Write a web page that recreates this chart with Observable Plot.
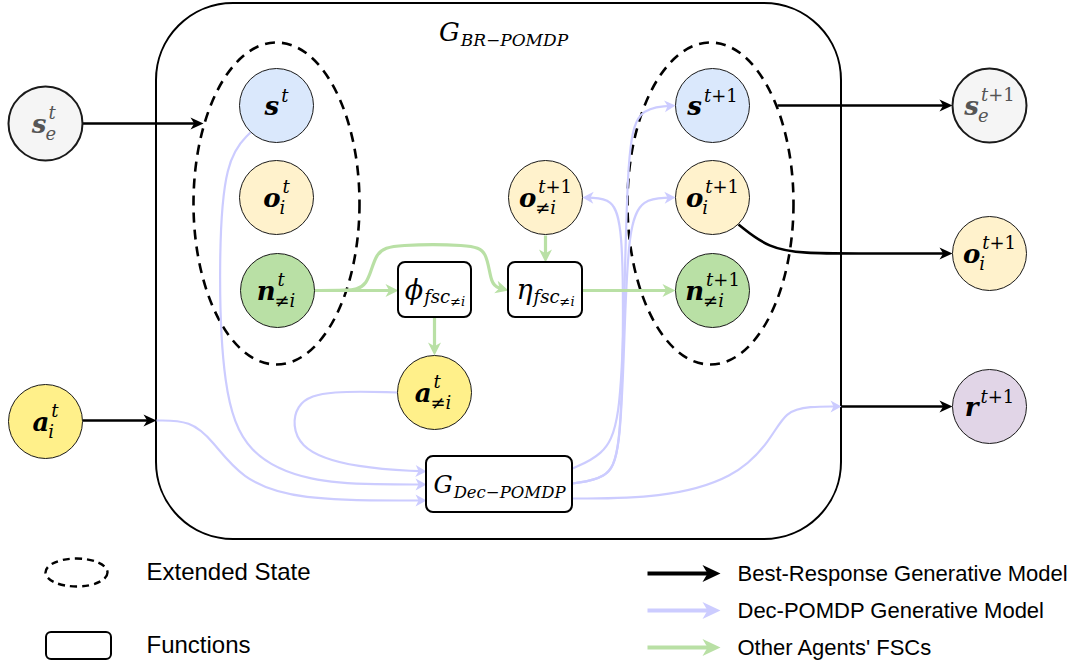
<!DOCTYPE html>
<html><head><meta charset="utf-8">
<script src="https://cdn.jsdelivr.net/npm/d3@7"></script>
<script src="https://cdn.jsdelivr.net/npm/@observablehq/plot@0.6"></script>
<style>html,body{margin:0;padding:0;background:#fff;}</style>
</head><body><div id="chart"></div>
<script>
// ---------------- data ----------------
const nodeIds   = ["se_t","s_t","o_t","n_t","a_i","a_ni","o_ni1","s_t1","o_t1","n_t1","se_t1","o_ext","r_t1"];
const nodeX     = [45, 276, 276, 277, 45, 434, 545, 712, 712, 712, 989, 989, 989];
const nodeY     = [123, 105, 197, 290, 421, 392, 197, 105, 197, 290, 105, 253, 406];
const nodeKind  = ["env","state","obs","fsc","action","action","obs","state","obs","fsc","env","obs","reward"];
const nodeBase  = ["s","s","o","n","a","a","o","s","o","n","s","o","r"];
const nodeSup   = ["t","t","t","t","t","t","t+1","t+1","t+1","t+1","t+1","t+1","t+1"];
const nodeSub   = ["e","","i","≠i","i","≠i","≠i","","i","≠i","e","i",""];

const boxIds    = ["phi","eta","gdec"];
const boxX1     = [398, 508, 426];
const boxX2     = [471, 582, 572];
const boxY1     = [262, 262, 456];
const boxY2     = [317, 317, 512];
const boxBase   = ["ϕ","η","G"];
const boxSub    = ["fsc","fsc","Dec−POMDP"];
const boxSubSub = ["≠i","≠i",""];

const frameX1 = 156, frameX2 = 841, frameY1 = 3, frameY2 = 539;
const titleBase = "G", titleSub = "BR−POMDP", titleX = 503, titleY = 40;

const extStateX = [276, 710];
const extStateY = [203, 203];

// edge waypoints (curve control points), tip last
const bestResponseEdges = [
  [[82,123],[203,123]],
  [[82,420],[156,420]],
  [[777,105],[952,105]],
  [[738,224],[768,248],[805,253],[850,253],[952,253]],
  [[841,406],[952,406]]
];
const decPomdpEdges = [
  [[250,132],[224,158],[218,260],[222,390],[245,455],[310,482],[380,484],[426,484]],
  [[397,392],[330,390],[292,400],[292,450],[360,468],[426,471]],
  [[156,420],[190,420],[212,440],[240,478],[295,500],[426,500]],
  [[572,468],[602,455],[620,425],[624,300],[627,150],[637,108],[675,105]],
  [[572,483],[606,478],[620,455],[623,330],[622,225],[612,198],[582,197]],
  [[572,483],[606,478],[620,455],[624,330],[628,225],[642,198],[675,197]],
  [[572,498],[660,498],[735,478],[770,440],[785,410],[810,406],[841,406]]
];
const fscEdges = [
  [[314,290],[398,290]],
  [[314,290],[345,290],[368,288],[374,250],[395,244],[470,244],[487,250],[490,285],[508,290]],
  [[434,317],[434,355]],
  [[545,235],[545,262]],
  [[582,290],[675,290]]
];

const legendShapeLabels = ["Extended State","Functions"];
const legendShapeY      = [572, 645];
const legendArrowLabels = ["Best-Response Generative Model","Dec-POMDP Generative Model","Other Agents' FSCs"];
const legendArrowY      = [573, 610, 647];

// ---------------- styles ----------------
const palette = {env:"#f5f5f5", state:"#dae8fc", obs:"#fff2cc", fsc:"#b9e0a5", action:"#fff08a", reward:"#e1d5e7"};
const styles = {
  black:{stroke:"#000000", width:2.6, L:13, W:12},
  blue: {stroke:"#ccccff", width:2.2, L:11, W:12},
  green:{stroke:"#b9e0a5", width:3.2, L:13, W:13}
};
const legendStyles = {
  black:{stroke:"#000000", width:4, L:18, W:17},
  blue: {stroke:"#ccccff", width:4, L:18, W:17},
  green:{stroke:"#b9e0a5", width:4, L:18, W:17}
};
const mathFont = "DejaVu Serif";
const sansFont = "Liberation Sans";

// ---------------- helpers ----------------
const ctx = document.createElement("canvas").getContext("2d");
const styleCss = {bi:["italic","bold"], i:["italic","normal"], n:["normal","normal"]};
function tw(text, size, st){ const [fs,fw]=styleCss[st]; ctx.font = `${fs} ${fw} ${size}px "${mathFont}"`; return ctx.measureText(text).width; }
function runs(str){ const out=[]; const re=/[A-Za-z\u0370-\u03FF]+|[^A-Za-z\u0370-\u03FF]+/g; let m; while((m=re.exec(str))) out.push(m[0]); return out; }
function isLetter(r){ return /[A-Za-z\u0370-\u03FF]/.test(r); }
function runsWidth(str,size){ return runs(str).reduce((s,r)=>s+tw(r,size,isLetter(r)?"i":"n"),0); }
function placeRuns(str,x,y,size,fill,pieces){ for(const r of runs(str)){ const st=isLetter(r)?"i":"n"; pieces.push({x,y,text:r,size,style:st,fill}); x+=tw(r,size,st);} return x; }

function arrowSymbol(L,W){ return {draw(c){ c.moveTo(0,0); c.lineTo(-L,-W/2); c.lineTo(-L*0.72,0); c.lineTo(-L,W/2); c.closePath(); }}; }
function ellipseSymbol(rx,ry){ const k=0.5523; return {draw(c){
  c.moveTo(rx,0); c.bezierCurveTo(rx,ry*k,rx*k,ry,0,ry); c.bezierCurveTo(-rx*k,ry,-rx,ry*k,-rx,0);
  c.bezierCurveTo(-rx,-ry*k,-rx*k,-ry,0,-ry); c.bezierCurveTo(rx*k,-ry,rx,-ry*k,rx,0); c.closePath(); }}; }

function edgeData(edges, name, st){
  const pts=[], heads=[];
  edges.forEach((e,i)=>{
    const n=e.length, tip=e[n-1], prev=e[n-2];
    const dx=tip[0]-prev[0], dy=tip[1]-prev[1], len=Math.hypot(dx,dy);
    const back=Math.min(st.L*0.6, len*0.5);
    e.forEach((p,j)=>{
      if(j===n-1) pts.push({id:name+i, x:p[0]-dx/len*back, y:p[1]-dy/len*back});
      else pts.push({id:name+i, x:p[0], y:p[1]});
    });
    heads.push({x:tip[0], y:tip[1], angle:Math.atan2(dy,dx)*180/Math.PI});
  });
  return {pts, heads};
}
function edgeMarks(edges,name,st){
  const {pts,heads}=edgeData(edges,name,st);
  return [
    Plot.line(pts,{x:"x",y:"y",z:"id",curve:"basis",stroke:st.stroke,strokeWidth:st.width,strokeLinecap:"butt"}),
    Plot.dot(heads,{x:"x",y:"y",rotate:"angle",symbol:arrowSymbol(st.L,st.W),fill:st.stroke,stroke:"none",r:5})
  ];
}

// ---------------- build ----------------
const nodes = nodeIds.map((id,i)=>({id,x:nodeX[i],y:nodeY[i],kind:nodeKind[i],base:nodeBase[i],sup:nodeSup[i],sub:nodeSub[i]}));
const boxes = boxIds.map((id,i)=>({id,x1:boxX1[i],x2:boxX2[i],y1:boxY1[i],y2:boxY2[i],base:boxBase[i],sub:boxSub[i],subsub:boxSubSub[i]}));

const pieces=[];
nodes.forEach(n=>{
  const B=26,S=18, fill = n.kind==="env" ? "#555555" : "#000000";
  const wB=tw(n.base,B,"bi"), wSup=runsWidth(n.sup,S), wSub=runsWidth(n.sub,S);
  const total=wB+2+Math.max(wSup,wSub);
  const x0=n.x-total/2;
  pieces.push({x:x0,y:n.y+9,text:n.base,size:B,style:"bi",fill});
  placeRuns(n.sup,x0+wB+2,n.y-(n.sub?5:4),S,fill,pieces);
  if(n.sub) placeRuns(n.sub,x0+wB-1,n.y+16,S,fill,pieces);
});
boxes.forEach(b=>{
  const isG=b.base==="G";
  const B=isG?24:27, S=isG?16.5:18, SS=13;
  const cx=(b.x1+b.x2)/2, cy=(b.y1+b.y2)/2;
  const wB=tw(b.base,B,"i"), wS=runsWidth(b.sub,S), wSS=runsWidth(b.subsub,SS);
  const total=wB+1+wS+wSS;
  let x=cx-total/2;
  pieces.push({x,y:cy+(isG?8:9),text:b.base,size:B,style:"i",fill:"#000"});
  x=placeRuns(b.sub,x+wB+1,cy+13,S,"#000",pieces);
  if(b.subsub) placeRuns(b.subsub,x,cy+16,SS,"#000",pieces);
});
{
  const B=26,S=17; const wB=tw(titleBase,B,"i"), wS=runsWidth(titleSub,S);
  let x=titleX-(wB+1+wS)/2;
  pieces.push({x,y:titleY,text:titleBase,size:B,style:"i",fill:"#000"});
  placeRuns(titleSub,x+wB+1,titleY+5,S,"#000",pieces);
}
function textMark(st,fs,fw){
  return Plot.text(pieces.filter(p=>p.style===st),{x:"x",y:"y",text:"text",fontSize:d=>d.size,fill:"fill",
    textAnchor:"start",lineAnchor:"bottom",fontFamily:mathFont,fontStyle:fs,fontWeight:fw});
}

const legendArrowEdges = {
  black:[[[647,legendArrowY[0]],[720,legendArrowY[0]]]],
  blue: [[[647,legendArrowY[1]],[720,legendArrowY[1]]]],
  green:[[[647,legendArrowY[2]],[720,legendArrowY[2]]]]
};

const chart = Plot.plot({
  width:1073, height:663, margin:0,
  x:{domain:[0,1073], range:[0,1073], axis:null},
  y:{domain:[0,663], range:[0,663], axis:null},
  color:{type:"identity"},
  style:{background:"#fff", overflow:"visible"},
  marks:[
    Plot.rect([{x1:frameX1,x2:frameX2,y1:frameY1,y2:frameY2}],{x1:"x1",x2:"x2",y1:"y1",y2:"y2",rx:77,fill:"none",stroke:"#000",strokeWidth:2}),
    Plot.dot(extStateX.map((x,i)=>({x,y:extStateY[i]})),{x:"x",y:"y",symbol:ellipseSymbol(83,161),fill:"none",stroke:"#000",strokeWidth:2.6,strokeDasharray:"10 7",r:5}),
    ...edgeMarks(decPomdpEdges,"dp",styles.blue),
    ...edgeMarks(fscEdges,"fsc",styles.green),
    ...edgeMarks(bestResponseEdges,"br",styles.black),
    Plot.dot(nodes,{x:"x",y:"y",r:37,fill:d=>palette[d.kind],stroke:"#1a1a1a",strokeWidth:d=>d.kind==="env"?2:1}),
    Plot.rect(boxes,{x1:"x1",x2:"x2",y1:"y1",y2:"y2",rx:7,fill:"#fff",stroke:"#000",strokeWidth:2}),
    textMark("bi","italic","bold"),
    textMark("i","italic","normal"),
    textMark("n","normal","normal"),
    // legend
    Plot.dot([{x:76,y:legendShapeY[0]}],{x:"x",y:"y",symbol:ellipseSymbol(31,14),fill:"none",stroke:"#000",strokeWidth:2.4,strokeDasharray:"7 5",r:5}),
    Plot.rect([{x1:46,x2:111,y1:legendShapeY[1]-13,y2:legendShapeY[1]+14}],{x1:"x1",x2:"x2",y1:"y1",y2:"y2",rx:5,fill:"#fff",stroke:"#000",strokeWidth:2}),
    Plot.text(legendShapeLabels.map((t,i)=>({t,y:legendShapeY[i]})),{x:146,y:"y",text:"t",textAnchor:"start",fontFamily:sansFont,fontSize:24,fill:"#000"}),
    ...edgeMarks(legendArrowEdges.black,"lb",legendStyles.black),
    ...edgeMarks(legendArrowEdges.blue,"lu",legendStyles.blue),
    ...edgeMarks(legendArrowEdges.green,"lg",legendStyles.green),
    Plot.text(legendArrowLabels.map((t,i)=>({t,y:legendArrowY[i]})),{x:737,y:"y",text:"t",textAnchor:"start",fontFamily:sansFont,fontSize:22,fill:"#000"})
  ]
});
document.getElementById("chart").appendChild(chart);
</script></body></html>
